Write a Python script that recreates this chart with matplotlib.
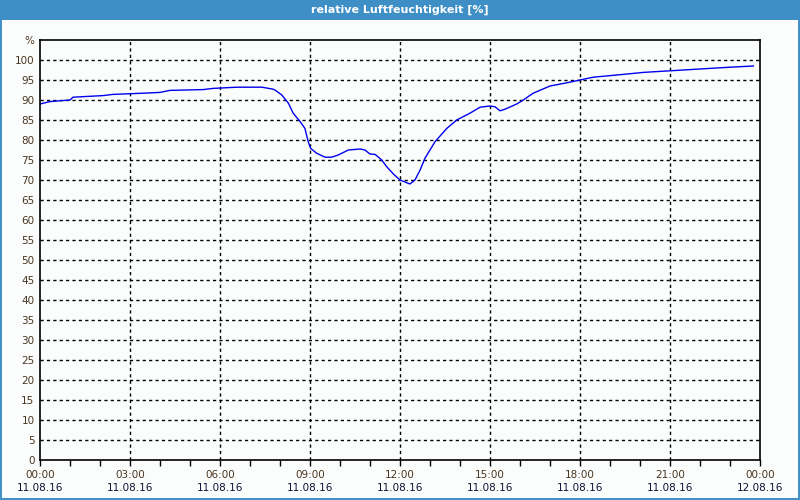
import matplotlib
matplotlib.use('Agg')
import matplotlib.pyplot as plt
from matplotlib.patches import Rectangle
import matplotlib.transforms as mtransforms

# relative humidity over the day, hours since 11.08.16 00:00
hours = [0.0, 0.33, 1.0, 1.1, 2.1, 2.43, 3.43, 4.0, 4.33, 5.43, 5.77, 6.57, 7.4,
         7.77, 7.83, 8.06, 8.28, 8.44, 8.67, 8.83, 8.94, 9.02, 9.22, 9.5, 9.72,
         9.94, 10.28, 10.67, 10.83, 11.0, 11.17, 11.33, 11.39, 11.56, 11.78, 12.0,
         12.33, 12.5, 12.67, 12.83, 13.17, 13.56, 13.89, 14.33, 14.67, 15.0, 15.17,
         15.33, 15.5, 15.89, 16.11, 16.44, 17.0, 17.56, 18.0, 18.44, 19.44, 20.11,
         21.0, 22.0, 23.0, 23.78]
humidity = [89.0, 89.6, 90.0, 90.7, 91.1, 91.4, 91.7, 91.9, 92.4, 92.6, 92.9, 93.2, 93.2,
            92.7, 92.5, 91.25, 89.2, 86.7, 84.6, 82.9, 79.6, 77.9, 76.7, 75.7, 75.7,
            76.25, 77.5, 77.75, 77.5, 76.5, 76.4, 75.4, 75.0, 73.3, 71.5, 70.0,
            69.0, 70.0, 72.5, 75.4, 79.6, 82.9, 85.0, 86.7, 88.2, 88.5, 88.3,
            87.3, 87.7, 89.0, 90.0, 91.7, 93.5, 94.3, 95.0, 95.7, 96.4, 96.9,
            97.3, 97.75, 98.2, 98.5]

time_labels = ['00:00', '03:00', '06:00', '09:00', '12:00', '15:00', '18:00', '21:00', '00:00']
date_labels = ['11.08.16'] * 8 + ['12.08.16']
y_ticks = list(range(0, 101, 5))

title = 'relative Luftfeuchtigkeit [%]'
bar_blue = '#3d8fc6'
bg = '#fbfdfc'
text_col = '#4a3520'
date_col = '#101035'

fig = plt.figure(figsize=(8, 5), dpi=100, facecolor=bg)

# title bar and frame
fig.patches.append(Rectangle((0, 0.96), 1, 0.04, transform=fig.transFigure,
                             facecolor=bar_blue, edgecolor='none', zorder=0))
fig.patches.append(Rectangle((0.001, 0.002), 0.998, 0.996, transform=fig.transFigure,
                             facecolor='none', edgecolor=bar_blue, lw=1.4, zorder=1))
fig.text(0.5, 0.981, title, color='white', fontsize=8, fontweight='semibold',
         ha='center', va='center', family='DejaVu Sans')

ax = fig.add_axes([0.05, 0.08, 0.90, 0.84])
ax.set_facecolor(bg)
ax.plot(hours, humidity, color='#0000ee', lw=1.0)

ax.set_xlim(0, 24)
ax.set_ylim(0, 105)

# dashed grid, skipping the lines that sit on the spines
for h in range(3, 24, 3):
    ax.axvline(h, color='black', lw=1, ls=(0, (2.3, 2.3)), zorder=0.5)
for v in y_ticks[1:]:
    ax.axhline(v, color='black', lw=1, ls=(0, (2.3, 2.3)), zorder=0.5)

ax.set_yticks(y_ticks + [105])
ax.set_yticklabels([str(v) for v in y_ticks] + ['%'], fontsize=7.5, color=text_col)
ax.tick_params(axis='y', length=0, pad=4)

ax.set_xticks(range(0, 25, 3))
ax.set_xticklabels(time_labels, fontsize=7.5, color=text_col)
ax.set_xticks(range(0, 25), minor=True)
ax.tick_params(axis='x', which='both', direction='out', length=4, width=1, pad=3)

# second line of the x labels: the date
trans = mtransforms.blended_transform_factory(ax.transData, fig.transFigure)
for i, d in enumerate(date_labels):
    ax.text(i * 3, 0.024, d, transform=trans, fontsize=7.5, color=date_col,
            ha='center', va='center', clip_on=False)

for s in ax.spines.values():
    s.set_color('black')
    s.set_linewidth(1.2)

fig.savefig('out.png', dpi=100, facecolor=bg)
